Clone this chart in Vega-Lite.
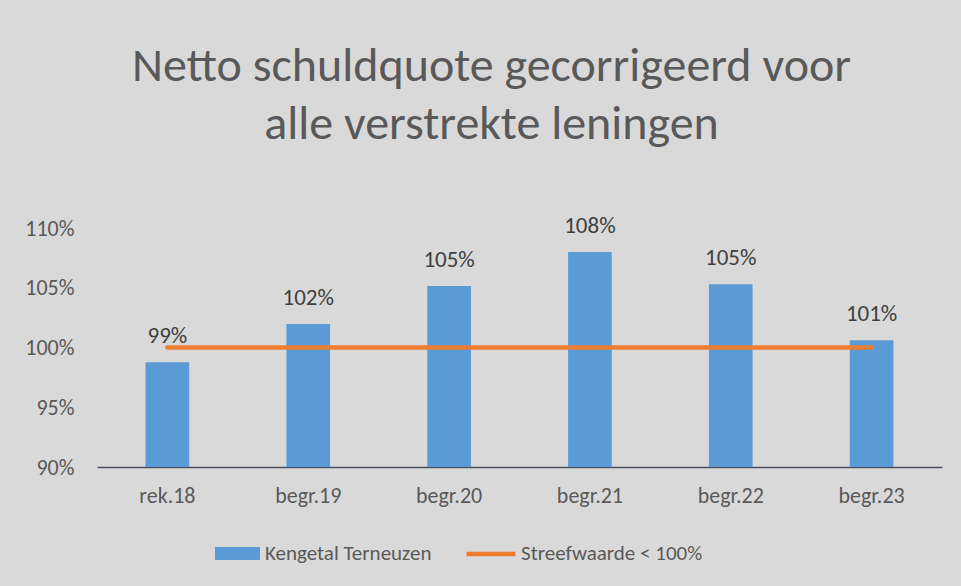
{
  "$schema": "https://vega.github.io/schema/vega-lite/v6.json",
  "autosize": {"type": "none"},
  "width": 845,
  "height": 239,
  "padding": {"left": 97, "top": 228, "right": 19, "bottom": 119},
  "background": "#d9d9d9",
  "config": {
    "view": {"stroke": null},
    "font": "Carlito, Lato, sans-serif"
  },
  "title": {
    "text": ["Netto schuldquote gecorrigeerd voor", "alle verstrekte leningen"],
    "font": "Carlito, Lato, sans-serif",
    "fontSize": 48,
    "fontWeight": "normal",
    "color": "#595959",
    "lineHeight": 58,
    "anchor": "middle",
    "frame": "group",
    "dx": -28,
    "dy": 3,
    "offset": 69
  },
  "data": {
    "values": [
      {"periode": "rek.18", "waarde": 0.9876, "norm": 1.0, "reeks": "Kengetal Terneuzen", "normreeks": "Streefwaarde < 100%"},
      {"periode": "begr.19", "waarde": 1.0197, "norm": 1.0, "reeks": "Kengetal Terneuzen", "normreeks": "Streefwaarde < 100%"},
      {"periode": "begr.20", "waarde": 1.0515, "norm": 1.0, "reeks": "Kengetal Terneuzen", "normreeks": "Streefwaarde < 100%"},
      {"periode": "begr.21", "waarde": 1.0799, "norm": 1.0, "reeks": "Kengetal Terneuzen", "normreeks": "Streefwaarde < 100%"},
      {"periode": "begr.22", "waarde": 1.053, "norm": 1.0, "reeks": "Kengetal Terneuzen", "normreeks": "Streefwaarde < 100%"},
      {"periode": "begr.23", "waarde": 1.006, "norm": 1.0, "reeks": "Kengetal Terneuzen", "normreeks": "Streefwaarde < 100%"}
    ]
  },
  "encoding": {
    "x": {
      "field": "periode",
      "type": "nominal",
      "sort": null,
      "scale": {"paddingInner": 0.69, "paddingOuter": 0.345},
      "axis": {
        "title": null,
        "labelAngle": 0,
        "labelFontSize": 22,
        "labelColor": "#595959",
        "labelPadding": 18,
        "ticks": false,
        "domainColor": "#4a5060",
        "domainWidth": 1.5
      }
    }
  },
  "layer": [
    {
      "mark": {"type": "bar", "clip": true},
      "encoding": {
        "y": {
          "field": "waarde",
          "type": "quantitative",
          "scale": {"domain": [0.9, 1.1], "zero": false, "nice": false},
          "axis": {
            "title": null,
            "values": [0.9, 0.95, 1.0, 1.05, 1.1],
            "format": ".0%",
            "labelFontSize": 22,
            "labelColor": "#595959",
            "labelPadding": 23,
            "ticks": false,
            "domain": false,
            "grid": false
          }
        },
        "fill": {
          "field": "reeks",
          "type": "nominal",
          "scale": {"range": ["#5b9bd5"]},
          "legend": {
            "title": null,
            "orient": "none",
            "legendX": 118,
            "legendY": 303,
            "symbolType": "M-1,-0.29H1V0.29H-1Z",
            "symbolSize": 2025,
            "symbolStrokeWidth": 0,
            "labelFontSize": 21,
            "labelLimit": 400,
            "labelColor": "#595959",
            "labelOffset": 5
          }
        }
      }
    },
    {
      "mark": {"type": "line", "strokeWidth": 4.5, "strokeCap": "round"},
      "encoding": {
        "y": {"field": "norm", "type": "quantitative"},
        "stroke": {
          "field": "normreeks",
          "type": "nominal",
          "scale": {"range": ["#ed7d31"]},
          "legend": {
            "title": null,
            "orient": "none",
            "legendX": 367,
            "legendY": 299,
            "symbolType": "stroke",
            "symbolSize": 2400,
            "symbolStrokeWidth": 4.5,
            "labelFontSize": 21,
            "labelLimit": 400,
            "labelColor": "#595959",
            "labelOffset": 3
          }
        }
      }
    },
    {
      "mark": {"type": "text", "baseline": "alphabetic", "dy": -19, "fontSize": 23, "color": "#404040"},
      "encoding": {
        "y": {"field": "waarde", "type": "quantitative"},
        "text": {"field": "waarde", "type": "quantitative", "format": ".0%"}
      }
    }
  ]
}
